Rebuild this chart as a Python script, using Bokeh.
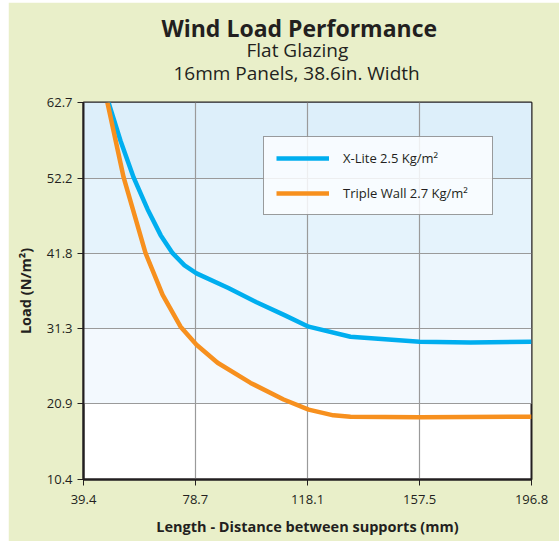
from bokeh.plotting import figure
from bokeh.models import FixedTicker, Range1d, Title
from bokeh.embed import file_html
from bokeh.resources import INLINE

# ---- data ----
x_ticks = [39.4, 78.7, 118.1, 157.5, 196.8]
y_ticks = [10.4, 20.9, 31.3, 41.8, 52.2, 62.7]

xlite_x = [48.2, 52.4, 57.0, 61.9, 66.5, 70.7, 74.9, 79.1, 90.3, 100.2, 110.0, 118.5, 133.2, 157.5, 175.4, 196.8]
xlite_y = [62.7, 57.4, 52.3, 47.9, 44.3, 41.8, 40.1, 39.0, 36.96, 35.0, 33.2, 31.6, 30.2, 29.5, 29.4, 29.5]

triple_x = [47.8, 53.5, 61.2, 67.2, 73.5, 79.1, 86.5, 98.1, 109.7, 118.5, 127.2, 133.2, 157.5, 196.8]
triple_y = [62.7, 52.3, 41.8, 36.0, 31.6, 29.1, 26.6, 23.8, 21.5, 20.1, 19.3, 19.1, 19.05, 19.1]

band_colors = ["#f3f9fe", "#ecf6fd", "#e5f3fc", "#ddeffa"]

title_lines = ["Wind Load Performance", "Flat Glazing", "16mm Panels, 38.6in. Width"]

BG = "#e9efc9"
DARK = "#231f20"
FONT = "Open Sans"

p = figure(width=551, height=539, output_backend="svg", toolbar_location=None,
           x_range=Range1d(x_ticks[0], x_ticks[-1]), y_range=Range1d(y_ticks[0], y_ticks[-1]),
           min_border_left=75, min_border_right=28, min_border_top=100, min_border_bottom=62)
p.margin = (2, 0, 0, 8)
p.border_fill_color = BG
p.background_fill_color = "white"
p.outline_line_color = DARK
p.outline_line_width = 2

# background bands (between grid lines)
r = p.quad(left=x_ticks[0], right=x_ticks[-1], bottom=y_ticks[1:-1], top=y_ticks[2:],
           fill_color=band_colors, line_color=None)
r.level = "image"

p.line(xlite_x, xlite_y, line_color="#00aeef", line_width=4.5, legend_label="X-Lite 2.5 Kg/m²")
p.line(triple_x, triple_y, line_color="#f7901e", line_width=4.5, legend_label="Triple Wall 2.7 Kg/m²")

p.xaxis.ticker = FixedTicker(ticks=x_ticks)
p.yaxis.ticker = FixedTicker(ticks=y_ticks)
p.xaxis.major_label_overrides = {t: f"{t:.1f}" for t in x_ticks}
p.yaxis.major_label_overrides = {t: f"{t:.1f}" for t in y_ticks}
for ax in (p.xaxis, p.yaxis):
    ax.axis_line_color = DARK
    ax.axis_line_width = 2
    ax.major_tick_line_color = DARK
    ax.major_tick_line_width = 1
    ax.major_tick_in = 0
    ax.major_tick_out = 6
    ax.minor_tick_line_color = None
    ax.major_label_text_font = FONT
    ax.major_label_text_font_size = "13px"
    ax.major_label_text_color = DARK
    ax.axis_label_text_font = FONT
    ax.axis_label_text_font_style = "bold"
    ax.axis_label_text_font_size = "14.5px"
    ax.axis_label_text_color = DARK
p.xaxis.major_label_standoff = 9
p.yaxis.major_label_standoff = 5
p.xaxis.axis_label = "Length - Distance between supports (mm)"
p.yaxis.axis_label = "Load (N/m²)"
p.xaxis.axis_label_standoff = 10
p.yaxis.axis_label_standoff = 9

p.grid.grid_line_color = "#9a9a9a"
p.grid.grid_line_width = 1.2
p.grid.grid_line_alpha = 1.0

lg = p.legend[0]
lg.location = (180, 264)
lg.label_text_font = FONT
lg.label_text_font_size = "13px"
lg.label_text_color = DARK
lg.glyph_width = 53
lg.glyph_height = 16
lg.label_height = 16
lg.label_width = 137
lg.label_standoff = 14
lg.spacing = 17
lg.padding = 12
lg.margin = 0
lg.border_line_color = "#3a3a3a"
lg.border_line_width = 1
lg.background_fill_color = "#fbfdff"
lg.background_fill_alpha = 0.85

# titles: innermost first (spacer, then lines from bottom to top)
p.add_layout(Title(text=" ", text_font=FONT, text_font_size="8px", standoff=6,
                   text_color=BG), "above")
offsets = {title_lines[0]: 78, title_lines[1]: 163, title_lines[2]: 90}
sizes = {title_lines[0]: "23px", title_lines[1]: "19px", title_lines[2]: "19px"}
styles = {title_lines[0]: "bold", title_lines[1]: "normal", title_lines[2]: "normal"}
standoffs = {title_lines[0]: -11.6, title_lines[1]: -6.8, title_lines[2]: -4}
for txt in reversed(title_lines):
    p.add_layout(Title(text=txt, align="left", offset=offsets[txt], standoff=standoffs[txt],
                       text_font=FONT, text_font_size=sizes[txt],
                       text_font_style=styles[txt], text_color=DARK), "above")

open("out.html", "w").write(file_html(p, INLINE))
